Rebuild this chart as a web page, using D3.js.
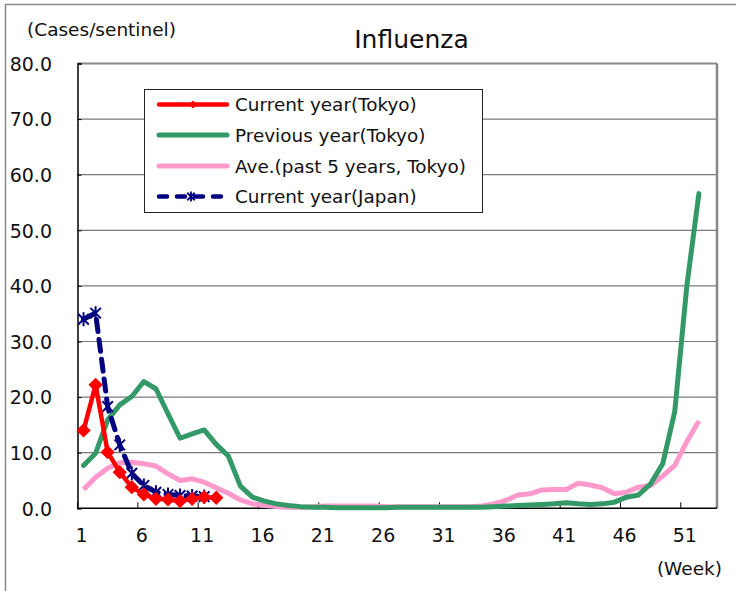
<!DOCTYPE html>
<html>
<head>
<meta charset="utf-8">
<script src="https://cdn.jsdelivr.net/npm/d3@7"></script>
<style>
  html, body { margin: 0; padding: 0; background: #fff; }
  svg { display: block; }
  text { font-family: "DejaVu Sans", sans-serif; fill: #111; }
</style>
</head>
<body>
<svg id="chart" width="736" height="591"></svg>
<script>
// ---- data ----
const weeks = d3.range(1, 54); // 53 week categories
const xTickWeeks = [1, 6, 11, 16, 21, 26, 31, 36, 41, 46, 51];
const yTicks = [0, 10, 20, 30, 40, 50, 60, 70, 80];

const currentTokyo = [14.0, 22.2, 10.1, 6.5, 3.8, 2.5, 1.7, 1.6, 1.3, 1.7, 2.0, 1.9];
const previousTokyo = [7.7, 9.9, 15.9, 18.6, 20.1, 22.8, 21.5, 17.0, 12.6, 13.4, 14.1, 11.5, 9.4, 4.0, 2.0, 1.3, 0.8, 0.5, 0.3, 0.2,
  0.2, 0.1, 0.1, 0.1, 0.1, 0.1, 0.2, 0.2, 0.2, 0.2, 0.2, 0.2, 0.2, 0.2, 0.3, 0.4, 0.5, 0.6, 0.7, 0.8,
  1.0, 0.8, 0.7, 0.8, 1.1, 2.0, 2.4, 4.4, 8.0, 17.4, 40.0, 56.6];
const avgTokyo = [3.4, 5.6, 7.2, 8.2, 8.3, 8.0, 7.6, 6.2, 5.0, 5.3, 4.7, 3.7, 2.7, 1.5, 0.8, 0.5, 0.3, 0.2, 0.2, 0.3,
  0.4, 0.4, 0.4, 0.4, 0.4, 0.3, 0.3, 0.3, 0.3, 0.3, 0.3, 0.3, 0.3, 0.4, 0.8, 1.4, 2.4, 2.6, 3.3, 3.4,
  3.4, 4.5, 4.2, 3.7, 2.6, 2.9, 3.8, 4.1, 5.8, 7.7, 12.0, 15.7];
const currentJapan = [34.0, 35.1, 18.3, 11.4, 6.3, 4.1, 2.9, 2.5, 2.3, 2.2, 2.1];

const legendLabels = ["Current year(Tokyo)", "Previous year(Tokyo)", "Ave.(past 5 years, Tokyo)", "Current year(Japan)"];

// ---- layout ----
const svg = d3.select("#chart");
const L = 77.5, R = 717, T = 63.5, B = 508.3;

const x = d3.scaleBand().domain(weeks).range([L, R]).paddingInner(0).paddingOuter(0);
const bw = x.bandwidth();
const cx = w => x(w) + bw / 2;
const y = d3.scaleLinear().domain([0, 80]).range([B, T]);

// outer chart frame
svg.append("rect").attr("x", 5.5).attr("y", 4.5).attr("width", 800).attr("height", 800)
  .attr("fill", "none").attr("stroke", "#8a8a8a").attr("stroke-width", 1.5);

// gridlines
svg.append("g").selectAll("line").data(yTicks.filter(v => v > 0 && v < 80)).join("line")
  .attr("x1", L).attr("x2", R).attr("y1", d => y(d)).attr("y2", d => y(d))
  .attr("stroke", "#7a7a7a").attr("stroke-width", 1.2);

// plot border top/right (grey)
svg.append("line").attr("x1", L).attr("x2", R).attr("y1", T).attr("y2", T)
  .attr("stroke", "#888").attr("stroke-width", 2);
svg.append("line").attr("x1", R).attr("x2", R).attr("y1", T).attr("y2", B)
  .attr("stroke", "#888").attr("stroke-width", 2.5);

// y axis
const yAxis = d3.axisLeft(y).tickValues(yTicks).tickSize(-4).tickPadding(0).tickFormat(d3.format(".1f"));
const gy = svg.append("g").attr("transform", `translate(${L},0)`).call(yAxis);
gy.select(".domain").attr("stroke", "#000").attr("stroke-width", 1.5);
gy.selectAll(".tick line").attr("stroke", "#000");
gy.selectAll(".tick text").attr("x", 52 - L).attr("dy", "0.36em")
  .style("font-size", "19px").style("font-family", "DejaVu Sans").attr("fill", "#111").attr("text-anchor", "end");

// x axis: ticks at category boundaries, labels at centres
const gx = svg.append("g");
gx.append("line").attr("x1", L).attr("x2", R).attr("y1", B).attr("y2", B)
  .attr("stroke", "#000").attr("stroke-width", 1.5);
gx.selectAll("line.tk").data(xTickWeeks).join("line").attr("class", "tk")
  .attr("x1", d => x(d)).attr("x2", d => x(d))
  .attr("y1", B).attr("y2", B - 6).attr("stroke", "#000").attr("stroke-width", 1);
gx.selectAll("text").data(xTickWeeks).join("text")
  .attr("x", d => cx(d) - 2).attr("y", 542).attr("text-anchor", "middle")
  .style("font-size", "19px").text(d => d);

// axis captions
svg.append("text").attr("x", 27).attr("y", 36).style("font-size", "18.5px").text("(Cases/sentinel)");
svg.append("text").attr("x", 411.5).attr("y", 48).attr("text-anchor", "middle").style("font-size", "25px").text("Influenza");
svg.append("text").attr("x", 722).attr("y", 575).attr("text-anchor", "end").style("font-size", "18.5px").text("(Week)");

// ---- series ----
const line = d3.line().x((d, i) => cx(weeks[i])).y(d => y(d));

svg.append("path").datum(avgTokyo).attr("d", line).attr("fill", "none")
  .attr("stroke", "#ff99cc").attr("stroke-width", 5).attr("stroke-linejoin", "round");
svg.append("path").datum(previousTokyo).attr("d", line).attr("fill", "none")
  .attr("stroke", "#339966").attr("stroke-width", 5).attr("stroke-linejoin", "round").attr("stroke-linecap", "round");
svg.append("path").datum(currentJapan).attr("d", line).attr("fill", "none")
  .attr("stroke", "#000080").attr("stroke-width", 5).attr("stroke-dasharray", "12,8").attr("stroke-linecap", "round");

function asterisk(g, px, py, r, sw) {
  const a = r * 0.75;
  g.append("path").attr("d", `M${px - a},${py - a}L${px + a},${py + a}M${px - a},${py + a}L${px + a},${py - a}M${px},${py - r}L${px},${py + r}`)
    .attr("stroke", "#000080").attr("stroke-width", sw).attr("fill", "none");
}
const gj = svg.append("g");
currentJapan.forEach((v, i) => asterisk(gj, cx(weeks[i]), y(v), 7, 2));

svg.append("path").datum(currentTokyo).attr("d", line).attr("fill", "none")
  .attr("stroke", "#ff0000").attr("stroke-width", 4.5).attr("stroke-linejoin", "round");
const diamond = d3.symbol().type(d3.symbolDiamond2).size(130);
svg.append("g").selectAll("path").data(currentTokyo).join("path")
  .attr("transform", (d, i) => `translate(${cx(weeks[i])},${y(d)})`)
  .attr("d", diamond).attr("fill", "#ff0000");

// ---- legend ----
const lg = svg.append("g");
lg.append("rect").attr("x", 144.5).attr("y", 89.5).attr("width", 338).attr("height", 123)
  .attr("fill", "#fff").attr("stroke", "#222").attr("stroke-width", 1);
const rowsY = [104.5, 135, 166, 196.5];
const lx1 = 159, lx2 = 227, lmid = 193;
// red
lg.append("line").attr("x1", lx1).attr("x2", lx2).attr("y1", rowsY[0]).attr("y2", rowsY[0])
  .attr("stroke", "#ff0000").attr("stroke-width", 4.5).attr("stroke-linecap", "round");
lg.append("path").attr("transform", `translate(${lmid},${rowsY[0]})`).attr("d", d3.symbol().type(d3.symbolDiamond2).size(40)).attr("fill", "#ff0000");
// green
lg.append("line").attr("x1", lx1).attr("x2", lx2).attr("y1", rowsY[1]).attr("y2", rowsY[1])
  .attr("stroke", "#339966").attr("stroke-width", 5).attr("stroke-linecap", "round");
// pink
lg.append("line").attr("x1", lx1).attr("x2", lx2).attr("y1", rowsY[2]).attr("y2", rowsY[2])
  .attr("stroke", "#ff99cc").attr("stroke-width", 5).attr("stroke-linecap", "round");
// navy
lg.append("line").attr("x1", lx1).attr("x2", lx2).attr("y1", rowsY[3]).attr("y2", rowsY[3])
  .attr("stroke", "#000080").attr("stroke-width", 4.5).attr("stroke-dasharray", "8,10").attr("stroke-linecap", "round");
asterisk(lg, lmid - 2, rowsY[3], 5, 1.8);
lg.selectAll("text").data(legendLabels).join("text")
  .attr("x", 235).attr("y", (d, i) => rowsY[i] + 6.5).style("font-size", "18.4px").text(d => d);
</script>
</body>
</html>
